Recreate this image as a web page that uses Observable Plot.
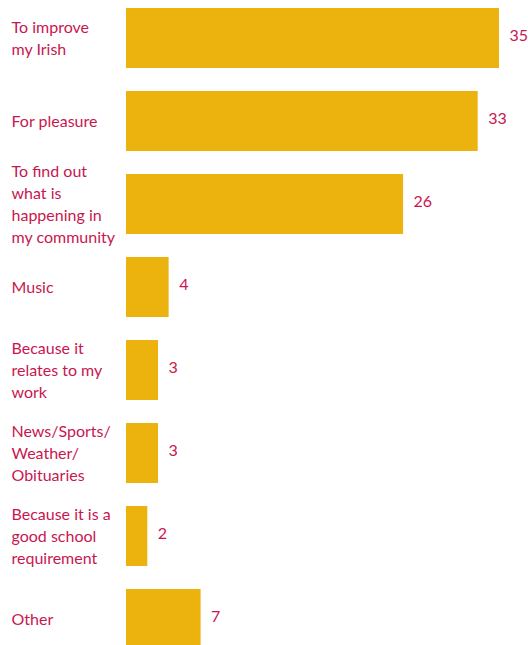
<!DOCTYPE html>
<html>
<head>
<meta charset="utf-8">
<script src="https://cdn.jsdelivr.net/npm/d3@7"></script>
<script src="https://cdn.jsdelivr.net/npm/@observablehq/plot@0.6"></script>
<style>
  html, body { margin: 0; padding: 0; background: #ffffff; }
  #chart svg { display: block; }
</style>
</head>
<body>
<div id="chart"></div>
<script>
const categories = [
  "To improve\nmy Irish",
  "For pleasure",
  "To find out\nwhat is\nhappening in\nmy community",
  "Music",
  "Because it\nrelates to my\nwork",
  "News/Sports/\nWeather/\nObituaries",
  "Because it is a\ngood school\nrequirement",
  "Other"
];
const values = [35, 33, 26, 4, 3, 3, 2, 7];

const data = categories.map((c, i) => ({category: c, value: values[i]}));

const barColor = "#ECB20E";
const textColor = "#C8174F";

const chart = Plot.plot({
  width: 528,
  height: 645,
  marginLeft: 126,
  marginRight: 29,
  marginTop: 0,
  marginBottom: 0,
  style: {fontFamily: "Lato, sans-serif", background: "#ffffff"},
  x: {domain: [0, 35], axis: null},
  y: {domain: categories, range: [7, 650], paddingInner: 0.28, paddingOuter: 0, axis: null},
  marks: [
    Plot.barX(data, {x: "value", y: "category", fill: barColor}),
    Plot.text(data, {
      y: "category", text: "category", frameAnchor: "left", textAnchor: "start",
      dx: -115, dy: -2, fontSize: 16, lineHeight: 1.375, fill: textColor
    }),
    Plot.text(data, {
      x: "value", y: "category", text: d => String(d.value), textAnchor: "start",
      dx: 10, dy: -3, fontSize: 16, fill: textColor
    })
  ]
});
document.getElementById("chart").appendChild(chart);
</script>
</body>
</html>
